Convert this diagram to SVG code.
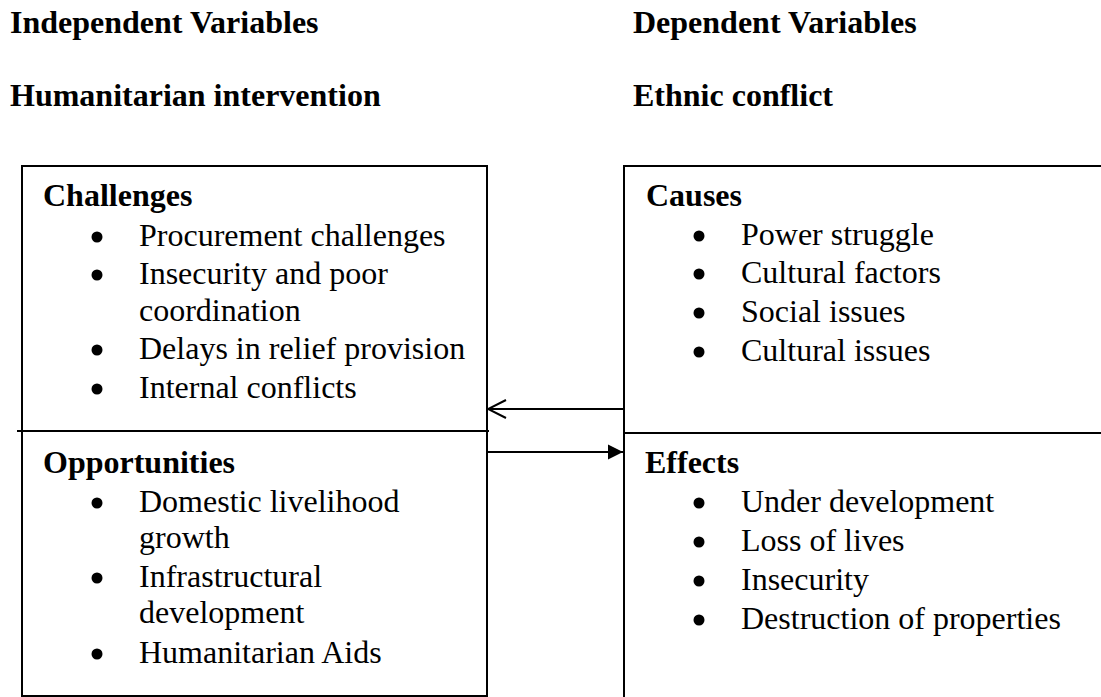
<svg xmlns="http://www.w3.org/2000/svg" width="1101" height="697" viewBox="0 0 1101 697">
<style>
text{font-family:"Liberation Serif","Times New Roman",serif;font-size:32px;fill:#000}
.b{font-weight:bold}
.box{fill:none;stroke:#000;stroke-width:2}
.ln{stroke:#000;stroke-width:2;fill:none}
.dot{fill:#000}
</style>
<defs>
<marker id="open" markerWidth="22" markerHeight="22" refX="20" refY="10" orient="auto" markerUnits="userSpaceOnUse">
<path d="M2,1 L20,10 L2,19" fill="none" stroke="#000" stroke-width="2"/>
</marker>
<marker id="fill" markerWidth="16" markerHeight="16" refX="15" refY="8" orient="auto" markerUnits="userSpaceOnUse">
<path d="M0,0.5 L15,8 L0,15.5 Z" fill="#000"/>
</marker>
</defs>
<g id="headers">
<text class="b" x="10" y="33">Independent Variables</text>
<text class="b" x="633" y="33">Dependent Variables</text>
<text class="b" x="10" y="106">Humanitarian intervention</text>
<text class="b" x="633" y="106">Ethnic conflict</text>
</g>
<g id="left-box">
<rect class="box" x="22" y="166" width="465" height="530"/>
<line class="ln" x1="17" y1="431" x2="489" y2="431"/>
</g>
<g id="challenges">
<text class="b" x="43" y="206">Challenges</text>
<circle class="dot" cx="97" cy="237" r="5.5"/>
<text x="139" y="246">Procurement challenges</text>
<circle class="dot" cx="97" cy="275" r="5.5"/>
<text x="139" y="284">Insecurity and poor</text>
<text x="139" y="321">coordination</text>
<circle class="dot" cx="97" cy="350" r="5.5"/>
<text x="139" y="359">Delays in relief provision</text>
<circle class="dot" cx="97" cy="389" r="5.5"/>
<text x="139" y="398">Internal conflicts</text>
</g>
<g id="opportunities">
<text class="b" x="43" y="473">Opportunities</text>
<circle class="dot" cx="97" cy="503" r="5.5"/>
<text x="139" y="512">Domestic livelihood</text>
<text x="139" y="548">growth</text>
<circle class="dot" cx="97" cy="578" r="5.5"/>
<text x="139" y="587">Infrastructural</text>
<text x="139" y="623">development</text>
<circle class="dot" cx="97" cy="654" r="5.5"/>
<text x="139" y="663">Humanitarian Aids</text>
</g>
<g id="right-box">
<path class="ln" d="M624,697 L624,166 L1101,166"/>
<line class="ln" x1="624" y1="433" x2="1101" y2="433"/>
</g>
<g id="causes">
<text class="b" x="646" y="206">Causes</text>
<circle class="dot" cx="699" cy="236" r="5.5"/>
<text x="741" y="245">Power struggle</text>
<circle class="dot" cx="699" cy="274" r="5.5"/>
<text x="741" y="283">Cultural factors</text>
<circle class="dot" cx="699" cy="313" r="5.5"/>
<text x="741" y="322">Social issues</text>
<circle class="dot" cx="699" cy="352" r="5.5"/>
<text x="741" y="361">Cultural issues</text>
</g>
<g id="effects">
<text class="b" x="645" y="473">Effects</text>
<circle class="dot" cx="699" cy="503" r="5.5"/>
<text x="741" y="512">Under development</text>
<circle class="dot" cx="699" cy="542" r="5.5"/>
<text x="741" y="551">Loss of lives</text>
<circle class="dot" cx="699" cy="581" r="5.5"/>
<text x="741" y="590">Insecurity</text>
<circle class="dot" cx="699" cy="620" r="5.5"/>
<text x="741" y="629">Destruction of properties</text>
</g>
<g id="connectors">
<line class="ln" x1="623" y1="409" x2="488" y2="409" marker-end="url(#open)"/>
<line class="ln" x1="488" y1="452" x2="623" y2="452" marker-end="url(#fill)"/>
</g>
</svg>
